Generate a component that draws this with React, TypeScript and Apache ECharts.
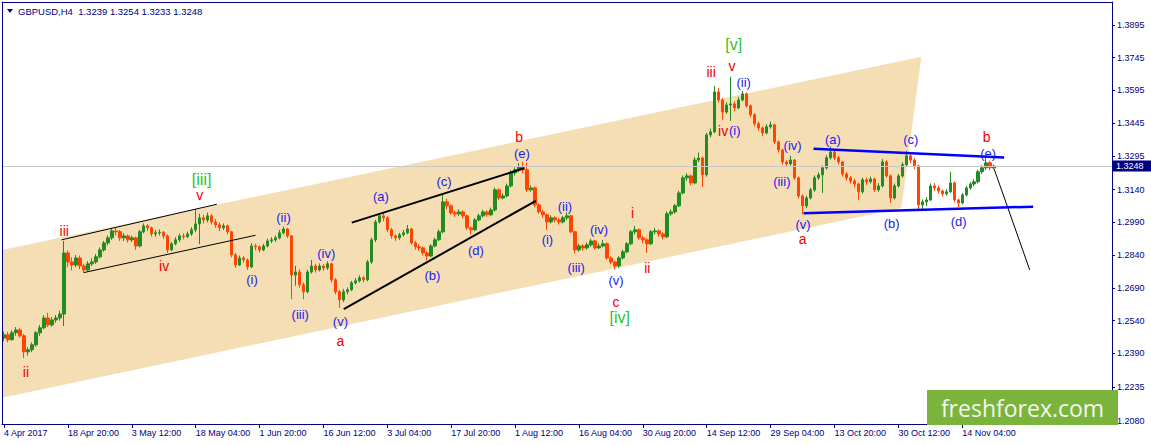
import React, { useEffect, useRef } from "react";
import * as echarts from "echarts";

// ---------- data ----------
const symbolName = "GBPUSD,H4";
const timeLabels = [
  "4 Apr 2017", "18 Apr 20:00", "3 May 12:00", "18 May 04:00", "1 Jun 20:00", "16 Jun 12:00",
  "3 Jul 04:00", "17 Jul 20:00", "1 Aug 12:00", "16 Aug 04:00", "30 Aug 20:00", "14 Sep 12:00",
  "29 Sep 04:00", "13 Oct 20:00", "30 Oct 12:00", "14 Nov 04:00",
];
const barsPerLabel = 16;
const slotCount = 278;

const priceTicks = [1.2080, 1.2235, 1.2390, 1.2540, 1.2690, 1.2840, 1.2990, 1.3140, 1.3295, 1.3445, 1.3595, 1.3745, 1.3895];
const priceMin = 1.2066;
const priceMax = 1.4000;

// candles: [open, close, low, high]
const aprilBars = [
  [1.2460,1.2475,1.2445,1.2490],[1.2475,1.2452,1.2440,1.2488],[1.2452,1.2484,1.2448,1.2495],[1.2484,1.2497,1.2470,1.2510],
  [1.2497,1.2470,1.2462,1.2505],[1.2470,1.2397,1.2369,1.2478],[1.2397,1.2406,1.2380,1.2418],[1.2406,1.2429,1.2395,1.2440],
  [1.2429,1.2484,1.2420,1.2492],[1.2484,1.2507,1.2470,1.2520],[1.2507,1.2552,1.2500,1.2565],[1.2552,1.2520,1.2510,1.2575],
  [1.2520,1.2543,1.2512,1.2556],[1.2543,1.2552,1.2530,1.2565],[1.2552,1.2570,1.2540,1.2585],[1.2570,1.2850,1.2515,1.2905],
  [1.2850,1.2809,1.2785,1.2862],[1.2809,1.2795,1.2770,1.2830],[1.2795,1.2827,1.2785,1.2840],[1.2827,1.2790,1.2775,1.2838],
  [1.2790,1.2772,1.2760,1.2800],[1.2772,1.2800,1.2765,1.2812],[1.2800,1.2809,1.2790,1.2825],[1.2809,1.2832,1.2800,1.2845],
  [1.2832,1.2864,1.2825,1.2875],[1.2864,1.2896,1.2855,1.2905],[1.2896,1.2919,1.2885,1.2930],[1.2919,1.2951,1.2910,1.2962],
  [1.2951,1.2947,1.2930,1.2965],[1.2947,1.2919,1.2905,1.2955],[1.2919,1.2928,1.2905,1.2940],[1.2928,1.2910,1.2898,1.2935],
];
const mayBars = [
  [1.2910,1.2919,1.2900,1.2930],[1.2919,1.2882,1.2864,1.2925],[1.2882,1.2947,1.2875,1.2955],[1.2947,1.2974,1.2940,1.2985],
  [1.2974,1.2965,1.2950,1.2982],[1.2965,1.2937,1.2925,1.2970],[1.2937,1.2942,1.2925,1.2955],[1.2942,1.2945,1.2930,1.2958],
  [1.2945,1.2928,1.2915,1.2950],[1.2928,1.2864,1.2850,1.2935],[1.2864,1.2892,1.2858,1.2900],[1.2892,1.2910,1.2885,1.2922],
  [1.2910,1.2928,1.2900,1.2938],[1.2928,1.2925,1.2912,1.2940],[1.2925,1.2937,1.2918,1.2948],[1.2937,1.2956,1.2928,1.2968],
  [1.2956,1.2983,1.2945,1.3050],[1.2983,1.3011,1.2890,1.3030],[1.3011,1.3001,1.2985,1.3025],[1.3001,1.3020,1.2990,1.3035],
  [1.3020,1.2992,1.2980,1.3028],[1.2992,1.2979,1.2965,1.3005],[1.2979,1.2965,1.2950,1.2990],[1.2965,1.2974,1.2955,1.2985],
  [1.2974,1.2947,1.2935,1.2980],[1.2947,1.2841,1.2830,1.2950],[1.2841,1.2795,1.2782,1.2850],[1.2795,1.2827,1.2790,1.2838],
  [1.2827,1.2818,1.2805,1.2835],[1.2818,1.2786,1.2772,1.2825],[1.2786,1.2882,1.2780,1.2895],[1.2882,1.2878,1.2862,1.2892],
];
const juneBars = [
  [1.2878,1.2864,1.2852,1.2885],[1.2864,1.2882,1.2858,1.2892],[1.2882,1.2905,1.2875,1.2915],[1.2905,1.2910,1.2895,1.2922],
  [1.2910,1.2919,1.2900,1.2930],[1.2919,1.2942,1.2912,1.2955],[1.2942,1.2960,1.2935,1.2970],[1.2960,1.2928,1.2918,1.2965],
  [1.2928,1.2749,1.2638,1.2932],[1.2749,1.2763,1.2700,1.2790],[1.2763,1.2704,1.2690,1.2775],[1.2704,1.2672,1.2638,1.2715],
  [1.2672,1.2763,1.2665,1.2772],[1.2763,1.2790,1.2755,1.2818],[1.2790,1.2772,1.2760,1.2800],[1.2772,1.2790,1.2765,1.2802],
  [1.2790,1.2781,1.2768,1.2798],[1.2781,1.2800,1.2772,1.2812],[1.2800,1.2727,1.2715,1.2805],[1.2727,1.2672,1.2660,1.2735],
  [1.2672,1.2635,1.2598,1.2680],[1.2635,1.2672,1.2625,1.2685],[1.2672,1.2681,1.2660,1.2692],[1.2681,1.2713,1.2675,1.2722],
  [1.2713,1.2722,1.2705,1.2735],[1.2722,1.2736,1.2715,1.2748],[1.2736,1.2727,1.2715,1.2745],[1.2727,1.2809,1.2720,1.2818],
  [1.2809,1.2910,1.2800,1.2920],[1.2910,1.2992,1.2900,1.3002],[1.2992,1.3020,1.2985,1.3030],[1.3020,1.3011,1.2995,1.3034],
];
const julyBars = [
  [1.3011,1.2956,1.2945,1.3018],[1.2956,1.2928,1.2915,1.2965],[1.2928,1.2919,1.2905,1.2935],[1.2919,1.2933,1.2910,1.2942],
  [1.2933,1.2942,1.2925,1.2955],[1.2942,1.2960,1.2935,1.2978],[1.2960,1.2896,1.2888,1.2965],[1.2896,1.2878,1.2865,1.2905],
  [1.2878,1.2873,1.2860,1.2890],[1.2873,1.2850,1.2838,1.2880],[1.2850,1.2836,1.2815,1.2858],[1.2836,1.2882,1.2830,1.2890],
  [1.2882,1.2910,1.2875,1.2920],[1.2910,1.2947,1.2905,1.2958],[1.2947,1.3084,1.2940,1.3116],[1.3084,1.3066,1.3050,1.3098],
  [1.3066,1.3034,1.3025,1.3072],[1.3034,1.3029,1.3015,1.3045],[1.3029,1.3038,1.3020,1.3050],[1.3038,1.3020,1.3008,1.3045],
  [1.3020,1.2965,1.2955,1.3025],[1.2965,1.2956,1.2935,1.2972],[1.2956,1.3001,1.2950,1.3010],[1.3001,1.3020,1.2995,1.3030],
  [1.3020,1.3038,1.3012,1.3048],[1.3038,1.3025,1.3015,1.3045],[1.3025,1.3047,1.3018,1.3058],[1.3047,1.3139,1.3040,1.3150],
  [1.3139,1.3102,1.3092,1.3145],[1.3102,1.3111,1.3095,1.3122],[1.3111,1.3157,1.3105,1.3168],[1.3157,1.3217,1.3150,1.3228],
];
const augustBars = [
  [1.3217,1.3231,1.3205,1.3242],[1.3231,1.3244,1.3220,1.3262],[1.3244,1.3231,1.3215,1.3268],[1.3231,1.3139,1.3130,1.3265],
  [1.3139,1.3148,1.3130,1.3160],[1.3148,1.3070,1.3060,1.3155],[1.3070,1.3038,1.3030,1.3078],[1.3038,1.3025,1.3012,1.3048],
  [1.3025,1.2992,1.2956,1.3030],[1.2992,1.3011,1.2985,1.3022],[1.3011,1.3001,1.2990,1.3018],[1.3001,1.2992,1.2980,1.3010],
  [1.2992,1.3011,1.2985,1.3020],[1.3011,1.3020,1.3000,1.3036],[1.3020,1.2947,1.2940,1.3025],[1.2947,1.2864,1.2848,1.2952],
  [1.2864,1.2882,1.2855,1.2892],[1.2882,1.2873,1.2860,1.2890],[1.2873,1.2887,1.2865,1.2898],[1.2887,1.2905,1.2878,1.2915],
  [1.2905,1.2873,1.2865,1.2910],[1.2873,1.2882,1.2868,1.2895],[1.2882,1.2892,1.2875,1.2910],[1.2892,1.2827,1.2818,1.2898],
  [1.2827,1.2809,1.2798,1.2835],[1.2809,1.2790,1.2774,1.2815],[1.2790,1.2827,1.2782,1.2835],[1.2827,1.2855,1.2820,1.2865],
  [1.2855,1.2892,1.2848,1.2900],[1.2892,1.2947,1.2885,1.2955],[1.2947,1.2956,1.2935,1.2974],[1.2956,1.2919,1.2910,1.2962],
];
const septemberBars = [
  [1.2919,1.2910,1.2895,1.2930],[1.2910,1.2892,1.2850,1.2918],[1.2892,1.2947,1.2885,1.2955],[1.2947,1.2951,1.2935,1.2965],
  [1.2951,1.2937,1.2925,1.2958],[1.2937,1.2924,1.2912,1.2945],[1.2924,1.3029,1.2918,1.3040],[1.3029,1.3038,1.3020,1.3050],
  [1.3038,1.3066,1.3030,1.3075],[1.3066,1.3125,1.3060,1.3135],[1.3125,1.3194,1.3118,1.3205],[1.3194,1.3203,1.3180,1.3215],
  [1.3203,1.3171,1.3160,1.3210],[1.3171,1.3276,1.3165,1.3290],[1.3276,1.3285,1.3265,1.3310],[1.3285,1.3208,1.3153,1.3292],
  [1.3208,1.3391,1.3200,1.3400],[1.3391,1.3405,1.3380,1.3420],[1.3405,1.3588,1.3398,1.3615],[1.3588,1.3551,1.3540,1.3605],
  [1.3551,1.3496,1.3460,1.3560],[1.3496,1.3528,1.3488,1.3540],[1.3528,1.3533,1.3455,1.3657],[1.3533,1.3515,1.3500,1.3545],
  [1.3515,1.3551,1.3508,1.3565],[1.3551,1.3579,1.3545,1.3592],[1.3579,1.3524,1.3515,1.3585],[1.3524,1.3483,1.3472,1.3530],
  [1.3483,1.3442,1.3430,1.3490],[1.3442,1.3423,1.3410,1.3452],[1.3423,1.3400,1.3385,1.3430],[1.3400,1.3428,1.3392,1.3440],
];
const octoberBars = [
  [1.3428,1.3437,1.3420,1.3452],[1.3437,1.3359,1.3348,1.3442],[1.3359,1.3322,1.3310,1.3365],[1.3322,1.3267,1.3255,1.3328],
  [1.3267,1.3258,1.3245,1.3275],[1.3258,1.3276,1.3250,1.3295],[1.3276,1.3194,1.3185,1.3280],[1.3194,1.3111,1.3100,1.3200],
  [1.3111,1.3066,1.3027,1.3118],[1.3066,1.3102,1.3055,1.3112],[1.3102,1.3139,1.3095,1.3148],[1.3139,1.3194,1.3130,1.3205],
  [1.3194,1.3208,1.3185,1.3220],[1.3208,1.3240,1.3125,1.3250],[1.3240,1.3286,1.3232,1.3298],[1.3286,1.3313,1.3278,1.3338],
  [1.3313,1.3286,1.3275,1.3322],[1.3286,1.3267,1.3255,1.3295],[1.3267,1.3212,1.3200,1.3272],[1.3212,1.3194,1.3182,1.3220],
  [1.3194,1.3180,1.3168,1.3202],[1.3180,1.3166,1.3150,1.3190],[1.3166,1.3130,1.3093,1.3172],[1.3130,1.3185,1.3122,1.3195],
  [1.3185,1.3176,1.3162,1.3195],[1.3176,1.3189,1.3168,1.3200],[1.3189,1.3139,1.3128,1.3195],[1.3139,1.3157,1.3130,1.3170],
  [1.3157,1.3267,1.3150,1.3280],[1.3267,1.3203,1.3195,1.3275],[1.3203,1.3102,1.3079,1.3210],[1.3102,1.3157,1.3095,1.3168],
];
const novemberBars = [
  [1.3157,1.3203,1.3150,1.3212],[1.3203,1.3254,1.3195,1.3265],[1.3254,1.3295,1.3245,1.3318],[1.3295,1.3276,1.3262,1.3305],
  [1.3276,1.3249,1.3235,1.3285],[1.3249,1.3070,1.3045,1.3255],[1.3070,1.3084,1.3042,1.3095],[1.3084,1.3093,1.3065,1.3105],
  [1.3093,1.3157,1.3088,1.3168],[1.3157,1.3148,1.3135,1.3170],[1.3148,1.3134,1.3122,1.3158],[1.3134,1.3121,1.3108,1.3140],
  [1.3121,1.3130,1.3112,1.3142],[1.3130,1.3171,1.3125,1.3222],[1.3171,1.3093,1.3082,1.3178],[1.3093,1.3079,1.3060,1.3098],
  [1.3079,1.3116,1.3072,1.3125],[1.3116,1.3148,1.3108,1.3158],[1.3148,1.3166,1.3140,1.3175],[1.3166,1.3176,1.3155,1.3188],
  [1.3176,1.3222,1.3168,1.3232],[1.3222,1.3240,1.3212,1.3252],[1.3240,1.3263,1.3230,1.3290],[1.3263,1.3240,1.3228,1.3272],
  [1.3239,1.3248,1.3233,1.3254],
];

// wave labels: [text, bar index, price]
const redWaves: [string, number, number][] = [
  ["ii", 5.5, 1.2306], ["iii", 15.1, 1.2951], ["iv", 40.1, 1.2788], ["v", 49, 1.3116],
  ["a", 84.25, 1.2448], ["b", 129, 1.3383], ["c", 153.3, 1.2627], ["i", 157.4, 1.3035],
  ["ii", 161.1, 1.2780], ["iii", 177.1, 1.3677], ["v", 182.3, 1.3707], ["iv", 180.1, 1.3409],
  ["a", 200, 1.2913], ["b", 246.1, 1.3382],
];
const greenWaves: [string, number, number][] = [
  ["[iii]", 49.5, 1.3188], ["[iv]", 154.2, 1.2556], ["[v]", 182.75, 1.3804],
];
const blueWaves: [string, number, number][] = [
  ["(i)", 62.1, 1.2727], ["(ii)", 70, 1.3011], ["(iii)", 74.2, 1.2569], ["(iv)", 80.7, 1.2849],
  ["(v)", 84.25, 1.2535], ["(a)", 94.4, 1.3108], ["(b)", 107.3, 1.2745], ["(c)", 110.2, 1.3177],
  ["(d)", 118.2, 1.2861], ["(e)", 129.7, 1.3304], ["(i)", 136.1, 1.2912], ["(ii)", 140.5, 1.3062],
  ["(iii)", 143.3, 1.2785], ["(iv)", 149, 1.2956], ["(v)", 153.3, 1.2723], ["(ii)", 185.25, 1.3633],
  ["(i)", 183, 1.3409], ["(iv)", 197.5, 1.3341], ["(iii)", 194.8, 1.3176], ["(v)", 200.1, 1.2979],
  ["(a)", 207.6, 1.3371], ["(b)", 222.3, 1.2985], ["(c)", 227.1, 1.3371], ["(d)", 239.1, 1.2992],
  ["(e)", 246.5, 1.3306],
];

// trend lines: [bar1, price1, bar2, price2]
const thinBlackLines = [
  [14.4, 1.2910, 53.3, 1.3073],
  [20, 1.2760, 63, 1.2931],
  [248, 1.3234, 256.9, 1.2772],
];
const thickBlackLines = [
  [87.1, 1.2989, 130.25, 1.3238],
  [85.1, 1.2592, 133.2, 1.3089],
];
const triangleLines = [
  [202.75, 1.3328, 250.5, 1.3287],
  [200.25, 1.3032, 257.75, 1.3062],
];
// price channel: [bar, price] ends of upper and lower boundaries
const channelUpper = [[-0.5, 1.2864], [229.75, 1.3749]];
const channelLower = [[-0.5, 1.2186], [224.75, 1.3056]];

// ---------- styles ----------
const NAVY = "#000080";
const FONT = '"Liberation Sans", Arial, sans-serif';
const BULL = "#228B22";
const BEAR = "#FF4500";

const candles = [
  ...aprilBars, ...mayBars, ...juneBars, ...julyBars,
  ...augustBars, ...septemberBars, ...octoberBars, ...novemberBars,
];
const lastBar = candles[candles.length - 1];
const lastClose = lastBar[1];
const headerText =
  `${symbolName}  ${lastBar[0].toFixed(4)} ${lastBar[3].toFixed(4)} ${lastBar[2].toFixed(4)} ${lastBar[1].toFixed(4)}`;

const categories = Array.from({ length: slotCount }, (_, i) =>
  i % barsPerLabel === 0 && i / barsPerLabel < timeLabels.length ? timeLabels[i / barsPerLabel] : `bar${i}`
);
const showLabelAt = (i: number) => i % barsPerLabel === 0 && i / barsPerLabel < timeLabels.length;

function textSeries(rows: [string, number, number][], color: string, size: number) {
  return {
    type: "custom",
    xAxisIndex: 1,
    yAxisIndex: 0,
    silent: true,
    z: 6,
    data: rows.map((r) => [r[1], r[2]]),
    renderItem: (params: any, api: any) => {
      const pt = api.coord([api.value(0), api.value(1)]);
      return {
        type: "text",
        x: pt[0],
        y: pt[1],
        style: {
          text: rows[params.dataIndex][0],
          fill: color,
          font: `${size}px ${FONT}`,
          align: "center",
          verticalAlign: "middle",
        },
      };
    },
  };
}

function lineSeries(rows: number[][], color: string, width: number) {
  return {
    type: "custom",
    xAxisIndex: 1,
    yAxisIndex: 0,
    silent: true,
    z: 5,
    data: rows,
    encode: { x: [0, 2], y: [1, 3] },
    renderItem: (params: any, api: any) => {
      const a = api.coord([api.value(0), api.value(1)]);
      const b = api.coord([api.value(2), api.value(3)]);
      return {
        type: "line",
        shape: { x1: a[0], y1: a[1], x2: b[0], y2: b[1] },
        style: { stroke: color, lineWidth: width },
      };
    },
  };
}

export default function App() {
  const ref = useRef<HTMLDivElement>(null);

  useEffect(() => {
    if (!ref.current) return;
    const chart = echarts.init(ref.current, undefined, { renderer: "svg" });
    const channelPoly = [channelUpper[0], channelUpper[1], channelLower[1], channelLower[0]];

    chart.setOption({
      animation: false,
      backgroundColor: "#ffffff",
      grid: { left: 2, right: 39, top: 2, bottom: 21, containLabel: false },
      xAxis: [
        {
          type: "category",
          data: categories,
          boundaryGap: true,
          position: "bottom",
          z: 10,
          axisLine: { show: true, lineStyle: { color: NAVY, width: 1 } },
          axisTick: { show: true, interval: showLabelAt, alignWithLabel: true, length: 4, lineStyle: { color: NAVY } },
          axisLabel: {
            show: true,
            interval: showLabelAt,
            align: "left",
            color: NAVY,
            fontSize: 9,
            fontFamily: FONT,
            margin: 4,
            hideOverlap: false,
          },
          splitLine: { show: false },
        },
        {
          type: "value",
          min: -0.5,
          max: slotCount - 0.5,
          position: "top",
          z: 10,
          axisLine: { show: true, onZero: false, lineStyle: { color: NAVY, width: 1 } },
          axisTick: { show: false },
          axisLabel: { show: false },
          splitLine: { show: false },
        },
      ],
      yAxis: [
        {
          type: "value",
          position: "right",
          min: priceMin,
          max: priceMax,
          z: 10,
          axisLine: { show: true, onZero: false, lineStyle: { color: NAVY, width: 1 } },
          axisTick: { show: true, length: 3, customValues: priceTicks, lineStyle: { color: NAVY } },
          axisLabel: {
            show: true,
            customValues: priceTicks,
            formatter: (v: number) => v.toFixed(4),
            color: NAVY,
            fontSize: 9,
            fontFamily: FONT,
            margin: 5,
          },
          splitLine: { show: false },
        },
        {
          type: "value",
          position: "left",
          min: priceMin,
          max: priceMax,
          z: 10,
          axisLine: { show: true, onZero: false, lineStyle: { color: NAVY, width: 1 } },
          axisTick: { show: false },
          axisLabel: { show: false },
          splitLine: { show: false },
        },
      ],
      series: [
        {
          type: "custom",
          xAxisIndex: 1,
          yAxisIndex: 0,
          silent: true,
          z: 1,
          data: [channelPoly.flat()],
          renderItem: (params: any, api: any) => {
            const pts = [0, 1, 2, 3].map((k) => api.coord([api.value(2 * k), api.value(2 * k + 1)]));
            return { type: "polygon", shape: { points: pts }, style: { fill: "#F5DEB3" } };
          },
        },
        {
          type: "candlestick",
          xAxisIndex: 0,
          yAxisIndex: 0,
          z: 3,
          data: candles,
          barWidth: 3,
          silent: true,
          itemStyle: {
            color: BULL,
            color0: BEAR,
            borderColor: BULL,
            borderColor0: BEAR,
            borderWidth: 1,
          },
          markLine: {
            silent: true,
            symbol: ["none", "none"],
            animation: false,
            precision: 4,
            data: [{ yAxis: lastClose }],
            lineStyle: { color: "#C8C8C8", width: 1, type: "solid" },
            label: {
              show: true,
              position: "end",
              distance: 0,
              formatter: () => lastClose.toFixed(4),
              color: "#ffffff",
              backgroundColor: NAVY,
              fontSize: 9,
              fontFamily: FONT,
              lineHeight: 11,
              padding: [0, 10, 0, 4],
            },
          },
        },
        lineSeries(thinBlackLines, "#000000", 1),
        lineSeries(thickBlackLines, "#000000", 2),
        lineSeries(triangleLines, "#0000FF", 2.5),
        textSeries(redWaves, "#F00000", 14),
        textSeries(greenWaves, "#2EC22E", 16),
        textSeries(blueWaves, "#1A1AEE", 13),
      ],
      graphic: [
        {
          type: "polygon",
          z: 100,
          shape: { points: [[7, 9], [13, 9], [10, 13]] },
          style: { fill: NAVY },
        },
        {
          type: "text",
          z: 100,
          x: 18,
          y: 11,
          style: { text: headerText, fill: NAVY, font: `9.5px ${FONT}`, verticalAlign: "middle" },
        },
        {
          type: "rect",
          z: 100,
          shape: { x: 927, y: 390, width: 191, height: 35 },
          style: { fill: "#7BB43C" },
        },
        {
          type: "text",
          z: 101,
          x: 1022.5,
          y: 407.5,
          style: {
            text: "freshforex.com",
            fill: "#F4F5EC",
            font: '23px "Open Sans", "Noto Sans", sans-serif',
            align: "center",
            verticalAlign: "middle",
          },
        },
      ],
    });

    return () => chart.dispose();
  }, []);

  return (
    <div
      ref={ref}
      style={{ position: "absolute", left: 0, top: 0, width: 1151, height: 445, background: "#fff" }}
    />
  );
}
